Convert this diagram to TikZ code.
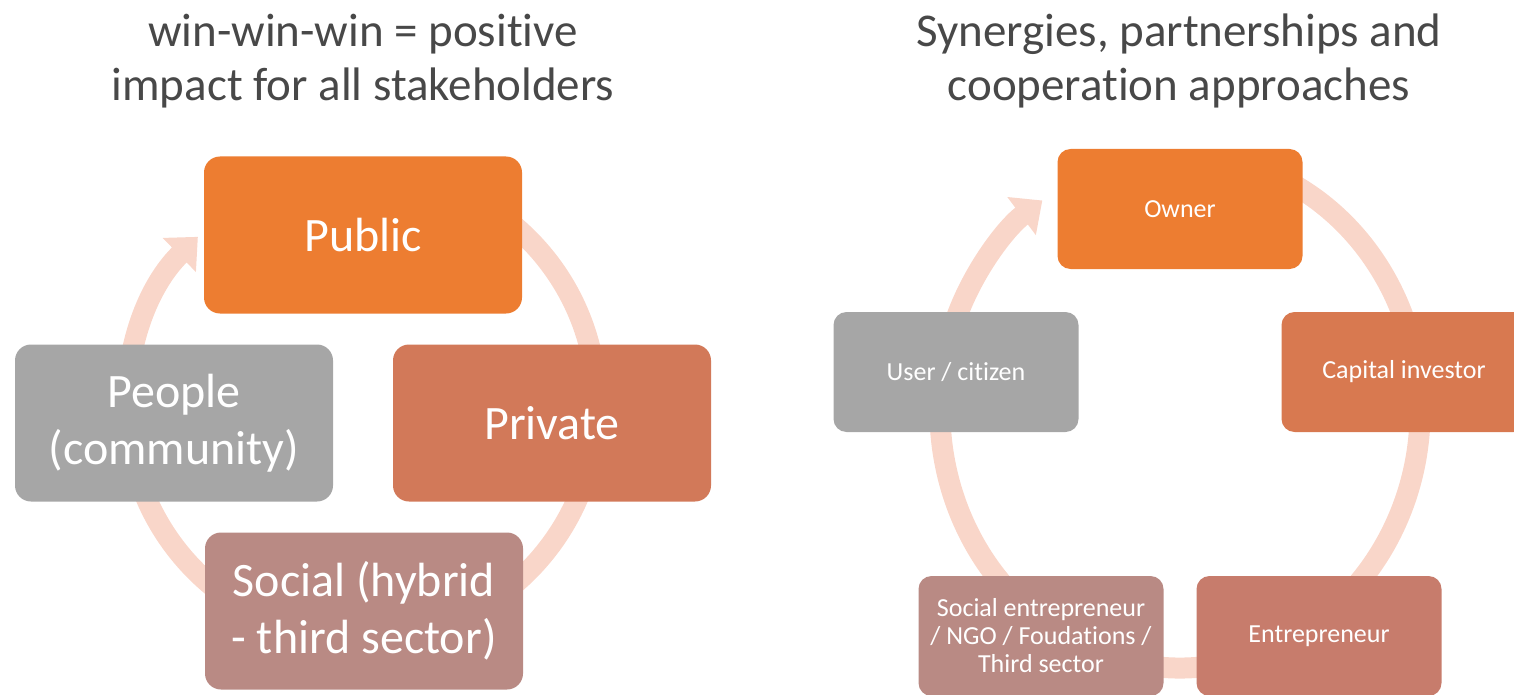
\documentclass[tikz,border=0pt]{standalone}
\usepackage{fontspec}
\setmainfont{Carlito}[Ligatures=NoCommon]
\usetikzlibrary{arrows.meta}
\definecolor{cOrange}{RGB}{237,125,49}
\definecolor{cPrivate}{RGB}{210,121,89}
\definecolor{cCapital}{RGB}{216,121,80}
\definecolor{cSocial}{RGB}{185,138,132}
\definecolor{cEntre}{RGB}{199,124,108}
\definecolor{cGray}{RGB}{166,166,166}
\definecolor{cRing}{RGB}{249,214,201}
\definecolor{cTitle}{RGB}{72,72,72}
\tikzset{
  bigbox/.style={rounded corners=16pt, minimum width=318pt, minimum height=157pt, inner sep=0pt,
    text=white, align=center, font=\fontsize{48}{57}\selectfont},
  smallbox/.style={rounded corners=13pt, minimum width=245pt, minimum height=120pt, inner sep=0pt,
    text=white, align=center, font=\fontsize{26}{28}\selectfont},
  titletext/.style={text=cTitle, anchor=base, inner sep=0pt, font=\fontsize{47}{54}\selectfont},
  ring/.style={draw=cRing, line width=21pt, -{Triangle[width=46pt,length=26pt]}}
}
\begin{document}
\begin{tikzpicture}[x=1pt,y=1pt]
\useasboundingbox (0,0) rectangle (1514,-695);
% titles
\node[titletext] (t1a) at (363,-47) {win-win-win = positive};
\node[titletext] (t1b) at (363,-101) {impact for all stakeholders};
\node[titletext] (t2a) at (1179,-47) {Synergies, partnerships and};
\node[titletext] (t2b) at (1179,-101) {cooperation approaches};
% rings
\coordinate (lc) at (362,-405);
\coordinate (rc) at (1180,-411);
\draw[ring] (lc) ++(100:235pt) arc[start angle=100, end angle=-225.7, radius=235pt];
\draw[ring] (rc) ++(65:240pt and 257pt) arc[start angle=65, end angle=-235, x radius=240pt, y radius=257pt];
% left boxes
\node[bigbox, fill=cOrange] (pub) at (363,-235) {Public};
\node[bigbox, fill=cGray] (peo) at (174,-423) {People\\(community)};
\node[bigbox, fill=cPrivate] (pri) at (552,-423) {Private};
\node[bigbox, fill=cSocial] (soc) at (364,-611) {Social (hybrid\\- third sector)};
% right boxes
\node[smallbox, fill=cOrange] (own) at (1180,-209) {Owner};
\node[smallbox, fill=cGray] (usr) at (956,-372) {User / citizen};
\node[smallbox, fill=cCapital] (cap) at (1404,-372) {Capital investor};
\node[smallbox, fill=cSocial] (sen) at (1041,-636) {Social entrepreneur\\/ NGO / Foudations /\\Third sector};
\node[smallbox, fill=cEntre] (ent) at (1319,-636) {Entrepreneur};
\end{tikzpicture}
\end{document}
